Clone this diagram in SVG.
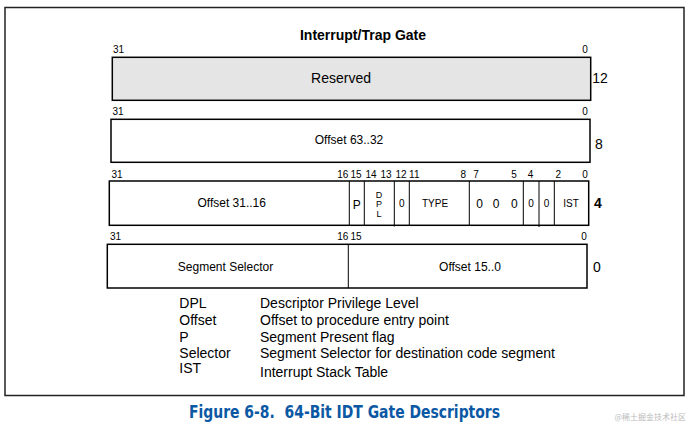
<svg xmlns="http://www.w3.org/2000/svg" width="690" height="426" viewBox="0 0 690 426">
<style>
text{font-family:"Liberation Sans",Arial,sans-serif;fill:#000}
.b{font-size:10px}
.f12{font-size:12px}
.f14{font-size:14px}
.f9{font-size:9px}
.m{text-anchor:middle}
.box{fill:#fff;stroke:#000;stroke-width:1.5}
.div{stroke:#000;stroke-width:1}
.cap{font-family:"DejaVu Sans Condensed","Open Sans",sans-serif;font-size:18px;font-weight:bold;fill:#0b58a4}
</style>
<rect x="5" y="7.5" width="679" height="388" fill="#fff" stroke="#222" stroke-width="1.5"/>
<text x="363" y="40" class="f14 m" font-weight="bold">Interrupt/Trap Gate</text>

<g id="row12">
<text x="113" y="53" class="b">31</text>
<text x="585" y="53" class="b m">0</text>
<rect x="112.3" y="57.3" width="478.4" height="43" class="box" style="fill:#e5e5e5"/>
<text x="341" y="83.3" class="f14 m">Reserved</text>
<text x="600" y="83" class="f14 m">12</text>
</g>

<g id="row8">
<text x="112.5" y="115" class="b">31</text>
<text x="585" y="115" class="b m">0</text>
<rect x="111" y="119.3" width="479" height="43" class="box"/>
<text x="349" y="144.3" class="f12 m">Offset 63..32</text>
<text x="599" y="149" class="f14 m">8</text>
</g>

<g id="row4">
<text x="111.5" y="177.6" class="b">31</text>
<text x="342.7" y="177.6" class="b m">16</text>
<text x="356" y="177.6" class="b m">15</text>
<text x="371" y="177.6" class="b m">14</text>
<text x="386" y="177.6" class="b m">13</text>
<text x="401" y="177.6" class="b m">12</text>
<text x="414.3" y="177.6" class="b m">11</text>
<text x="463.3" y="177.6" class="b m">8</text>
<text x="476" y="177.6" class="b m">7</text>
<text x="514" y="177.6" class="b m">5</text>
<text x="530.5" y="177.6" class="b m">4</text>
<text x="558.3" y="177.6" class="b m">2</text>
<text x="585" y="177.6" class="b m">0</text>
<rect x="109.3" y="181" width="479.4" height="44.3" class="box"/>
<line x1="349.3" y1="181" x2="349.3" y2="225.3" class="div"/>
<line x1="364.3" y1="181" x2="364.3" y2="225.3" class="div"/>
<line x1="394.3" y1="181" x2="394.3" y2="226.5" class="div"/>
<line x1="409.3" y1="181" x2="409.3" y2="225.3" class="div"/>
<line x1="469.3" y1="181" x2="469.3" y2="225.3" class="div"/>
<line x1="523.3" y1="181" x2="523.3" y2="225.3" class="div"/>
<line x1="539" y1="181" x2="539" y2="227" class="div"/>
<line x1="554.3" y1="181" x2="554.3" y2="225.3" class="div"/>
<text x="231.7" y="207" class="f12 m">Offset 31..16</text>
<text x="356.8" y="208.5" class="f12 m">P</text>
<text x="379" y="197.6" class="f9 m">D</text>
<text x="379" y="207" class="f9 m">P</text>
<text x="379" y="217" class="f9 m">L</text>
<text x="401.8" y="207" class="b m">0</text>
<text x="435" y="206.6" class="b m">TYPE</text>
<text x="479.5" y="207.5" class="f12 m">0</text>
<text x="496" y="207.5" class="f12 m">0</text>
<text x="514.3" y="207.5" class="f12 m">0</text>
<text x="531" y="207" class="b m">0</text>
<text x="546.5" y="207" class="b m">0</text>
<text x="571" y="206.6" class="b m">IST</text>
<text x="598" y="208" class="f14 m" font-weight="bold">4</text>
</g>

<g id="row0">
<text x="110" y="240.3" class="b">31</text>
<text x="342.7" y="240.3" class="b m">16</text>
<text x="356" y="240.3" class="b m">15</text>
<text x="584" y="240.3" class="b m">0</text>
<rect x="107.3" y="244.3" width="479.7" height="43.7" class="box"/>
<line x1="348.3" y1="244.3" x2="348.3" y2="288" class="div"/>
<text x="225.5" y="271" class="f12 m">Segment Selector</text>
<text x="470" y="271" class="f12 m">Offset 15..0</text>
<text x="597" y="272" class="f14 m">0</text>
</g>

<g id="connectors"></g>

<g id="legend" class="f14">
<text x="179.3" y="308.3">DPL</text>
<text x="260" y="308.3">Descriptor Privilege Level</text>
<text x="179.3" y="325">Offset</text>
<text x="260" y="325">Offset to procedure entry point</text>
<text x="179.3" y="341.7">P</text>
<text x="260" y="341.7">Segment Present flag</text>
<text x="179.3" y="358.3">Selector</text>
<text x="260" y="358.3">Segment Selector for destination code segment</text>
<text x="179.3" y="373.3">IST</text>
<text x="260" y="377">Interrupt Stack Table</text>
</g>

<g id="caption">
<text x="189" y="418" class="cap" textLength="311" lengthAdjust="spacingAndGlyphs" xml:space="preserve">Figure 6-8.  64-Bit IDT Gate Descriptors</text>
<text x="686" y="420" font-size="8" text-anchor="end" style="fill:#bbbbbb;font-family:'Noto Sans CJK SC',sans-serif">@稀土掘金技术社区</text>
</g>
</svg>
